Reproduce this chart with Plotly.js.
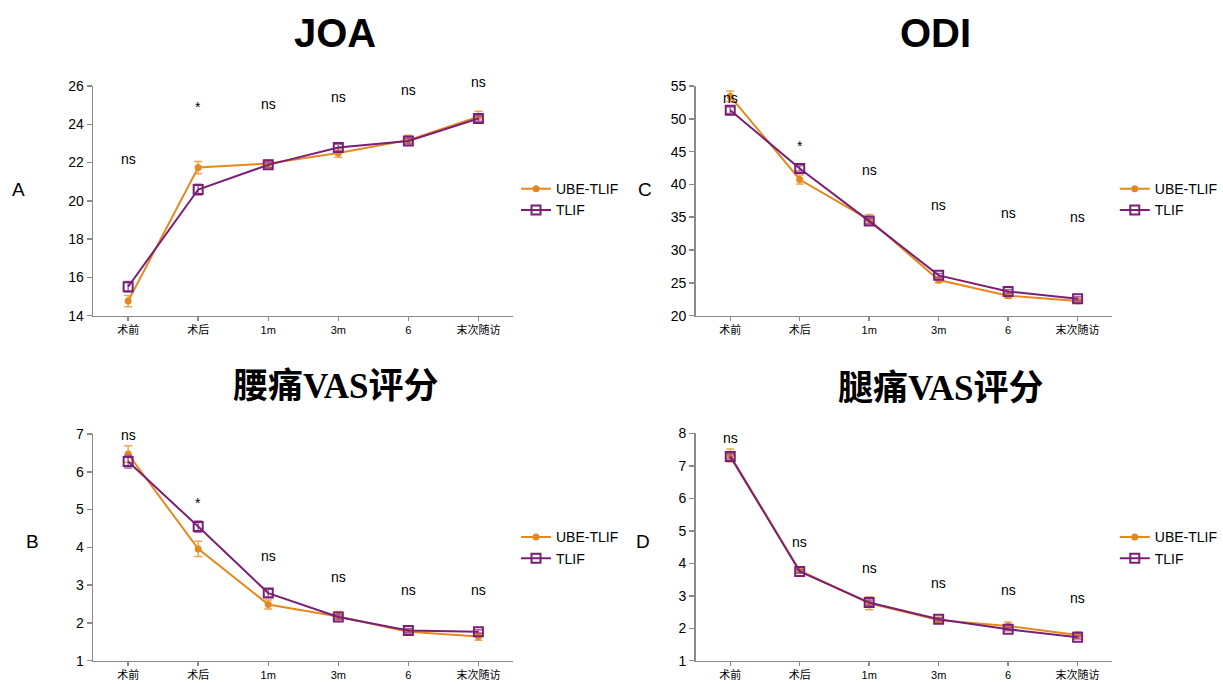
<!DOCTYPE html>
<html><head><meta charset="utf-8">
<script src="https://cdn.plot.ly/plotly-3.0.1.min.js"></script>
<style>html,body{margin:0;padding:0;background:#fff}#chart{width:1223px;height:684px}</style>
</head><body><div id="chart"></div>
<script>
const categories = ['术前','术后','1m','3m','6','末次随访'];
const seriesNames = ['UBE-TLIF','TLIF'];

const joaUBE = [14.76, 21.74, 21.95, 22.50, 23.17, 24.40];
const joaUBEErr = [0.30, 0.32, 0.20, 0.22, 0.25, 0.28];
const joaTLIF = [15.51, 20.59, 21.88, 22.78, 23.13, 24.30];
const joaTLIFErr = [0.28, 0.28, 0.14, 0.18, 0.14, 0.14];
const joaSig = ['ns','*','ns','ns','ns','ns'];
const joaSigY = [22.17, 25.05, 25.04, 25.40, 25.78, 26.20];

const odiUBE = [53.43, 40.75, 34.60, 25.43, 23.04, 22.24];
const odiUBEErr = [0.80, 0.70, 0.80, 0.40, 0.40, 0.35];
const odiTLIF = [51.30, 42.43, 34.41, 26.14, 23.70, 22.58];
const odiTLIFErr = [0.50, 0.40, 0.40, 0.30, 0.30, 0.30];
const odiSig = ['ns','*','ns','ns','ns','ns'];
const odiSigY = [53.10, 46.30, 42.20, 36.90, 35.70, 35.05];

const lbpUBE = [6.47, 3.96, 2.49, 2.17, 1.77, 1.64];
const lbpUBEErr = [0.22, 0.20, 0.12, 0.13, 0.06, 0.10];
const lbpTLIF = [6.27, 4.55, 2.79, 2.16, 1.80, 1.77];
const lbpTLIFErr = [0.17, 0.15, 0.10, 0.06, 0.05, 0.05];
const lbpSig = ['ns','*','ns','ns','ns','ns'];
const lbpSigY = [6.97, 5.25, 3.78, 3.21, 2.86, 2.86];

const lpUBE = [7.32, 3.77, 2.77, 2.25, 2.07, 1.79];
const lpUBEErr = [0.20, 0.06, 0.20, 0.08, 0.12, 0.10];
const lpTLIF = [7.29, 3.75, 2.79, 2.28, 1.97, 1.72];
const lpTLIFErr = [0.08, 0.05, 0.08, 0.05, 0.05, 0.05];
const lpSig = ['ns','ns','ns','ns','ns','ns'];
const lpSigY = [7.85, 4.65, 3.86, 3.40, 3.17, 2.94];

const panelTitles = ['JOA','ODI','腰痛VAS评分','腿痛VAS评分'];
const panelLetters = ['A','C','B','D'];

const ORANGE = '#E5881E', PURPLE = '#7B1F76';
const ORANGE_ERR = 'rgba(236,160,70,0.95)', PURPLE_ERR = 'rgba(150,80,150,0.85)';

const panels = [
  {ube: joaUBE, ubeErr: joaUBEErr, tlif: joaTLIF, tlifErr: joaTLIFErr, sig: joaSig, sigY: joaSigY, range: [14,26], dtick: 2,
   xd: [0.0765, 0.4219], yd: [0.5385, 0.8743], leg: 'legend'},
  {ube: odiUBE, ubeErr: odiUBEErr, tlif: odiTLIF, tlifErr: odiTLIFErr, sig: odiSig, sigY: odiSigY, range: [20,55], dtick: 5,
   xd: [0.5715, 0.914], yd: [0.5385, 0.8743], leg: 'legend2'},
  {ube: lbpUBE, ubeErr: lbpUBEErr, tlif: lbpTLIF, tlifErr: lbpTLIFErr, sig: lbpSig, sigY: lbpSigY, range: [1,7], dtick: 1,
   xd: [0.0765, 0.4219], yd: [0.0340, 0.3655], leg: 'legend3'},
  {ube: lpUBE, ubeErr: lpUBEErr, tlif: lpTLIF, tlifErr: lpTLIFErr, sig: lpSig, sigY: lpSigY, range: [1,8], dtick: 1,
   xd: [0.5715, 0.914], yd: [0.0340, 0.3665], leg: 'legend4'}
];

const traces = [];
const layout = {
  width: 1223, height: 684,
  margin: {l:0, r:0, t:0, b:0},
  paper_bgcolor: '#fff', plot_bgcolor: '#fff',
  font: {family: 'Liberation Sans, Arial, Noto Sans CJK SC, sans-serif', color: '#000'},
  showlegend: true,
  annotations: []
};
const legendPos = [[0.424, 0.7468], [0.916, 0.7468], [0.424, 0.2377], [0.916, 0.2377]];

panels.forEach((p, i) => {
  const n = i + 1;
  const xa = 'x' + (n === 1 ? '' : n), ya = 'y' + (n === 1 ? '' : n);
  const xk = 'xaxis' + (n === 1 ? '' : n), yk = 'yaxis' + (n === 1 ? '' : n);
  traces.push({
    type: 'scatter', mode: 'lines+markers', name: seriesNames[0], x: categories, y: p.ube,
    xaxis: xa, yaxis: ya, legend: p.leg, cliponaxis: false,
    line: {color: ORANGE, width: 2},
    marker: {symbol: 'circle', size: 7, color: ORANGE},
    error_y: {type: 'data', array: p.ubeErr, visible: true, color: ORANGE_ERR, thickness: 1.5, width: 4}
  });
  traces.push({
    type: 'scatter', mode: 'lines+markers', name: seriesNames[1], x: categories, y: p.tlif,
    xaxis: xa, yaxis: ya, legend: p.leg, cliponaxis: false,
    line: {color: PURPLE, width: 2},
    marker: {symbol: 'square-open', size: 9, color: PURPLE, line: {width: 2, color: PURPLE}},
    error_y: {type: 'data', array: p.tlifErr, visible: true, color: PURPLE_ERR, thickness: 1.5, width: 4}
  });
  layout[xk] = {
    domain: p.xd, anchor: ya, type: 'category', categoryorder: 'array', categoryarray: categories,
    range: [-0.5, 5.5], showline: true, linecolor: '#8a8a8a', linewidth: 1.5,
    ticks: 'outside', ticklen: 4, tickcolor: '#8a8a8a', tickwidth: 1.5,
    tickfont: {size: 11, color: '#000'}, showgrid: false, zeroline: false, fixedrange: true
  };
  layout[yk] = {
    domain: p.yd, anchor: xa, range: p.range, dtick: p.dtick, tick0: p.range[0],
    showline: true, linecolor: '#8a8a8a', linewidth: 1.5,
    ticks: 'outside', ticklen: 5, tickcolor: '#8a8a8a', tickwidth: 1.5,
    tickfont: {size: 14, color: '#000'}, showgrid: false, zeroline: false, fixedrange: true
  };
  const lk = p.leg;
  layout[lk] = {
    x: legendPos[i][0], y: legendPos[i][1], xanchor: 'left', yanchor: 'top',
    xref: 'paper', yref: 'paper',
    bgcolor: 'rgba(0,0,0,0)', font: {size: 14, color: '#000'}, itemwidth: 30
  };
  // significance labels: x by category index; labels above the axis top are anchored at top and shifted
  const pxPerUnit = (p.yd[1] - p.yd[0]) * 684 / (p.range[1] - p.range[0]);
  categories.forEach((c, j) => {
    let yv = p.sigY[j], shift = p.sig[j] === '*' ? -3 : 0;
    if (yv > p.range[1]) { shift += (yv - p.range[1]) * pxPerUnit; yv = p.range[1]; }
    layout.annotations.push({
      xref: xa, yref: ya, x: j, y: yv, text: p.sig[j], showarrow: false,
      font: {size: 14, color: '#000'}, yshift: shift
    });
  });
});

// titles
const titleX = [0.275, 0.769, 0.276, 0.773];
const titleY = [1 - 33/684, 1 - 33/684, 1 - 386/684, 1 - 388/684];
panelTitles.forEach((t, i) => {
  const serif = i >= 2;
  layout.annotations.push({
    xref: 'paper', yref: 'paper', x: titleX[i], y: titleY[i], text: '<b>' + t + '</b>', showarrow: false,
    xanchor: 'center', yanchor: 'middle',
    font: serif ? {size: 35, family: 'Liberation Serif, Times New Roman, Noto Sans CJK SC, serif', color: '#000'}
                : {size: 40, family: 'Liberation Sans, Arial, sans-serif', color: '#000'}
  });
});
// panel letters
const letterX = [19, 648, 33, 646];
const letterY = [189, 189, 541, 541];
panelLetters.forEach((t, i) => {
  layout.annotations.push({
    xref: 'paper', yref: 'paper', x: letterX[i]/1223, y: 1 - letterY[i]/684, text: t, showarrow: false,
    xanchor: 'center', yanchor: 'middle', font: {size: 19, color: '#000'}
  });
});

Plotly.newPlot('chart', traces, layout, {displayModeBar: false, staticPlot: true});
</script></body></html>
